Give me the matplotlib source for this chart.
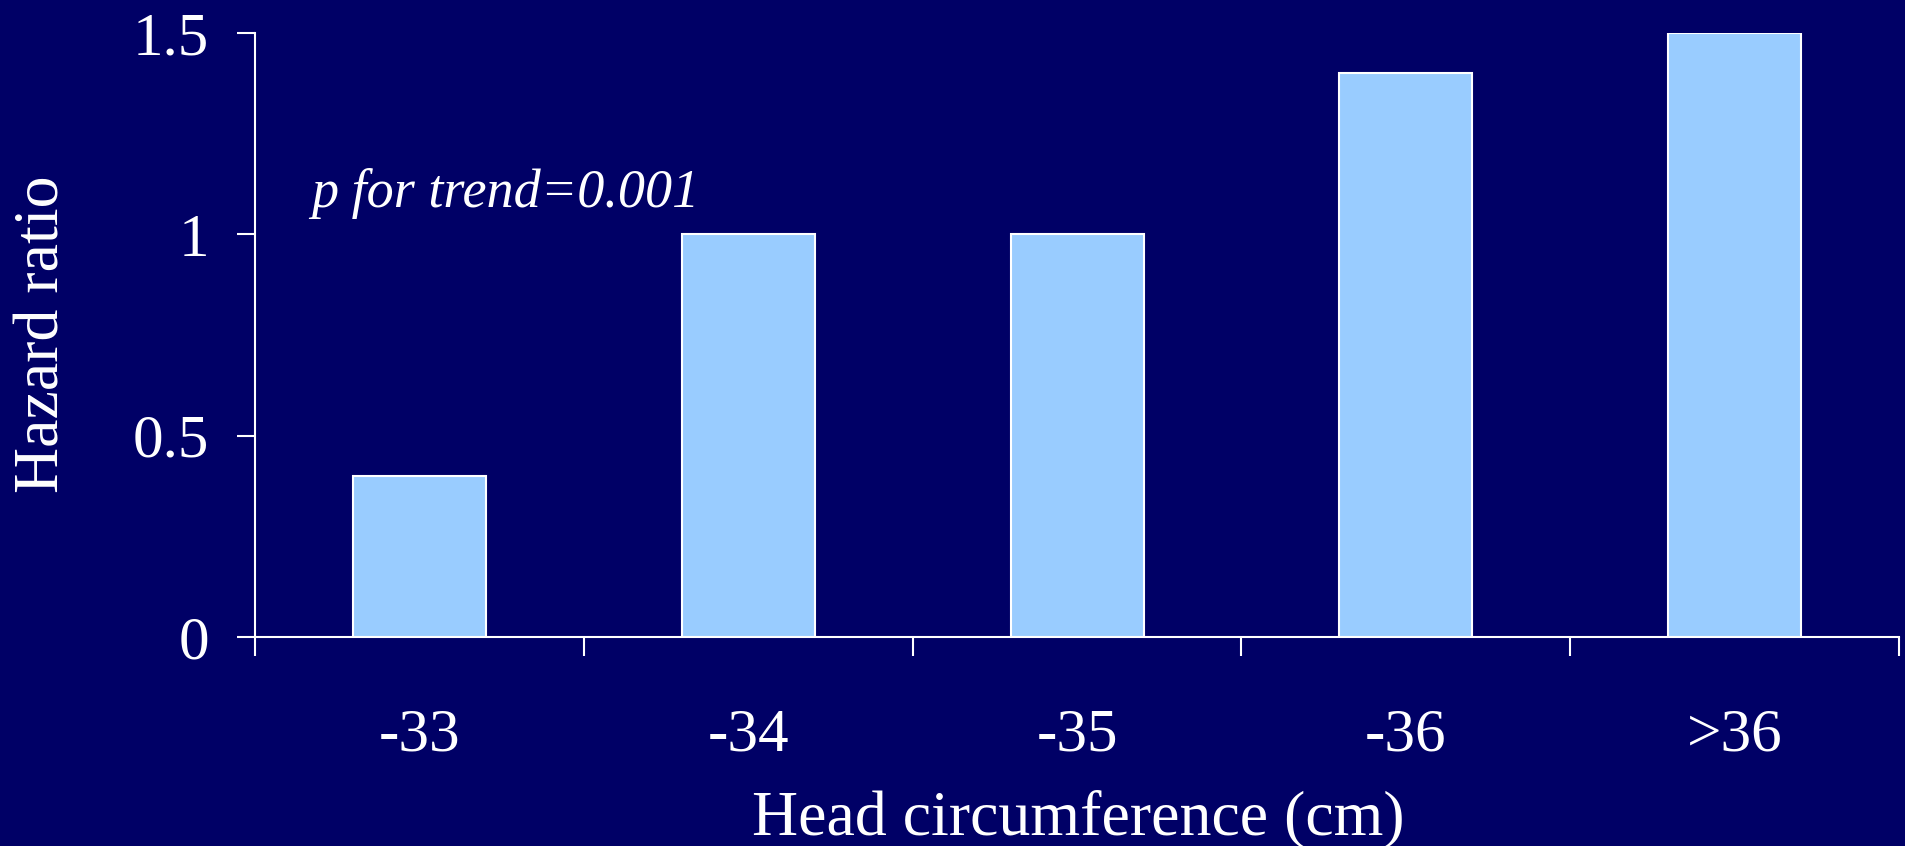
import matplotlib.pyplot as plt
import numpy as np

categories = ['-33', '-34', '-35', '-36', '>36']
hazard = [0.4, 1.0, 1.0, 1.4, 1.5]
yticks = [0, 0.5, 1, 1.5]
ytick_labels = ['0', '0.5', '1', '1.5']

bg = '#000066'
bar_col = '#99ccff'

plt.rcParams['font.family'] = ['Liberation Serif', 'DejaVu Serif']

fig = plt.figure(figsize=(19.05, 8.46), dpi=100, facecolor=bg)
ax = fig.add_axes([0.1339, 0.247, 0.863, 0.714], facecolor=bg)

x = np.arange(len(categories))
ax.bar(x, hazard, width=0.405, color=bar_col, edgecolor='white', linewidth=1.5, zorder=3)

ax.set_xlim(-0.5, len(categories) - 0.5)
ax.set_ylim(0, 1.5)

# ticks sit between the bars, labels are centred under them
ax.set_xticks(np.arange(-0.5, len(categories), 1.0))
ax.set_xticklabels([])
ax.set_xticks(x, minor=True)
ax.set_xticklabels(categories, minor=True)
ax.tick_params(axis='x', which='major', direction='out', length=14, width=1.5, color='white')
ax.tick_params(axis='x', which='minor', length=0, pad=51, labelsize=44, labelcolor='white')

ax.set_yticks(yticks)
ax.set_yticklabels(ytick_labels)
ax.tick_params(axis='y', direction='out', length=13, width=1.5, color='white',
               pad=20, labelsize=44, labelcolor='white')

for s in ['top', 'right']:
    ax.spines[s].set_visible(False)
for s in ['left', 'bottom']:
    ax.spines[s].set_color('white')
    ax.spines[s].set_linewidth(1.5)

ax.text(-0.33, 1.068, 'p for trend=0.001', fontsize=39, style='italic', color='white')

fig.text(0.023, 0.605, 'Hazard ratio', rotation=90, ha='center', va='center',
         fontsize=46, color='white')
fig.text(0.566, 0.032, 'Head circumference (cm)', ha='center', va='center',
         fontsize=46, color='white')

fig.savefig('out.png', dpi=100, facecolor=bg)
